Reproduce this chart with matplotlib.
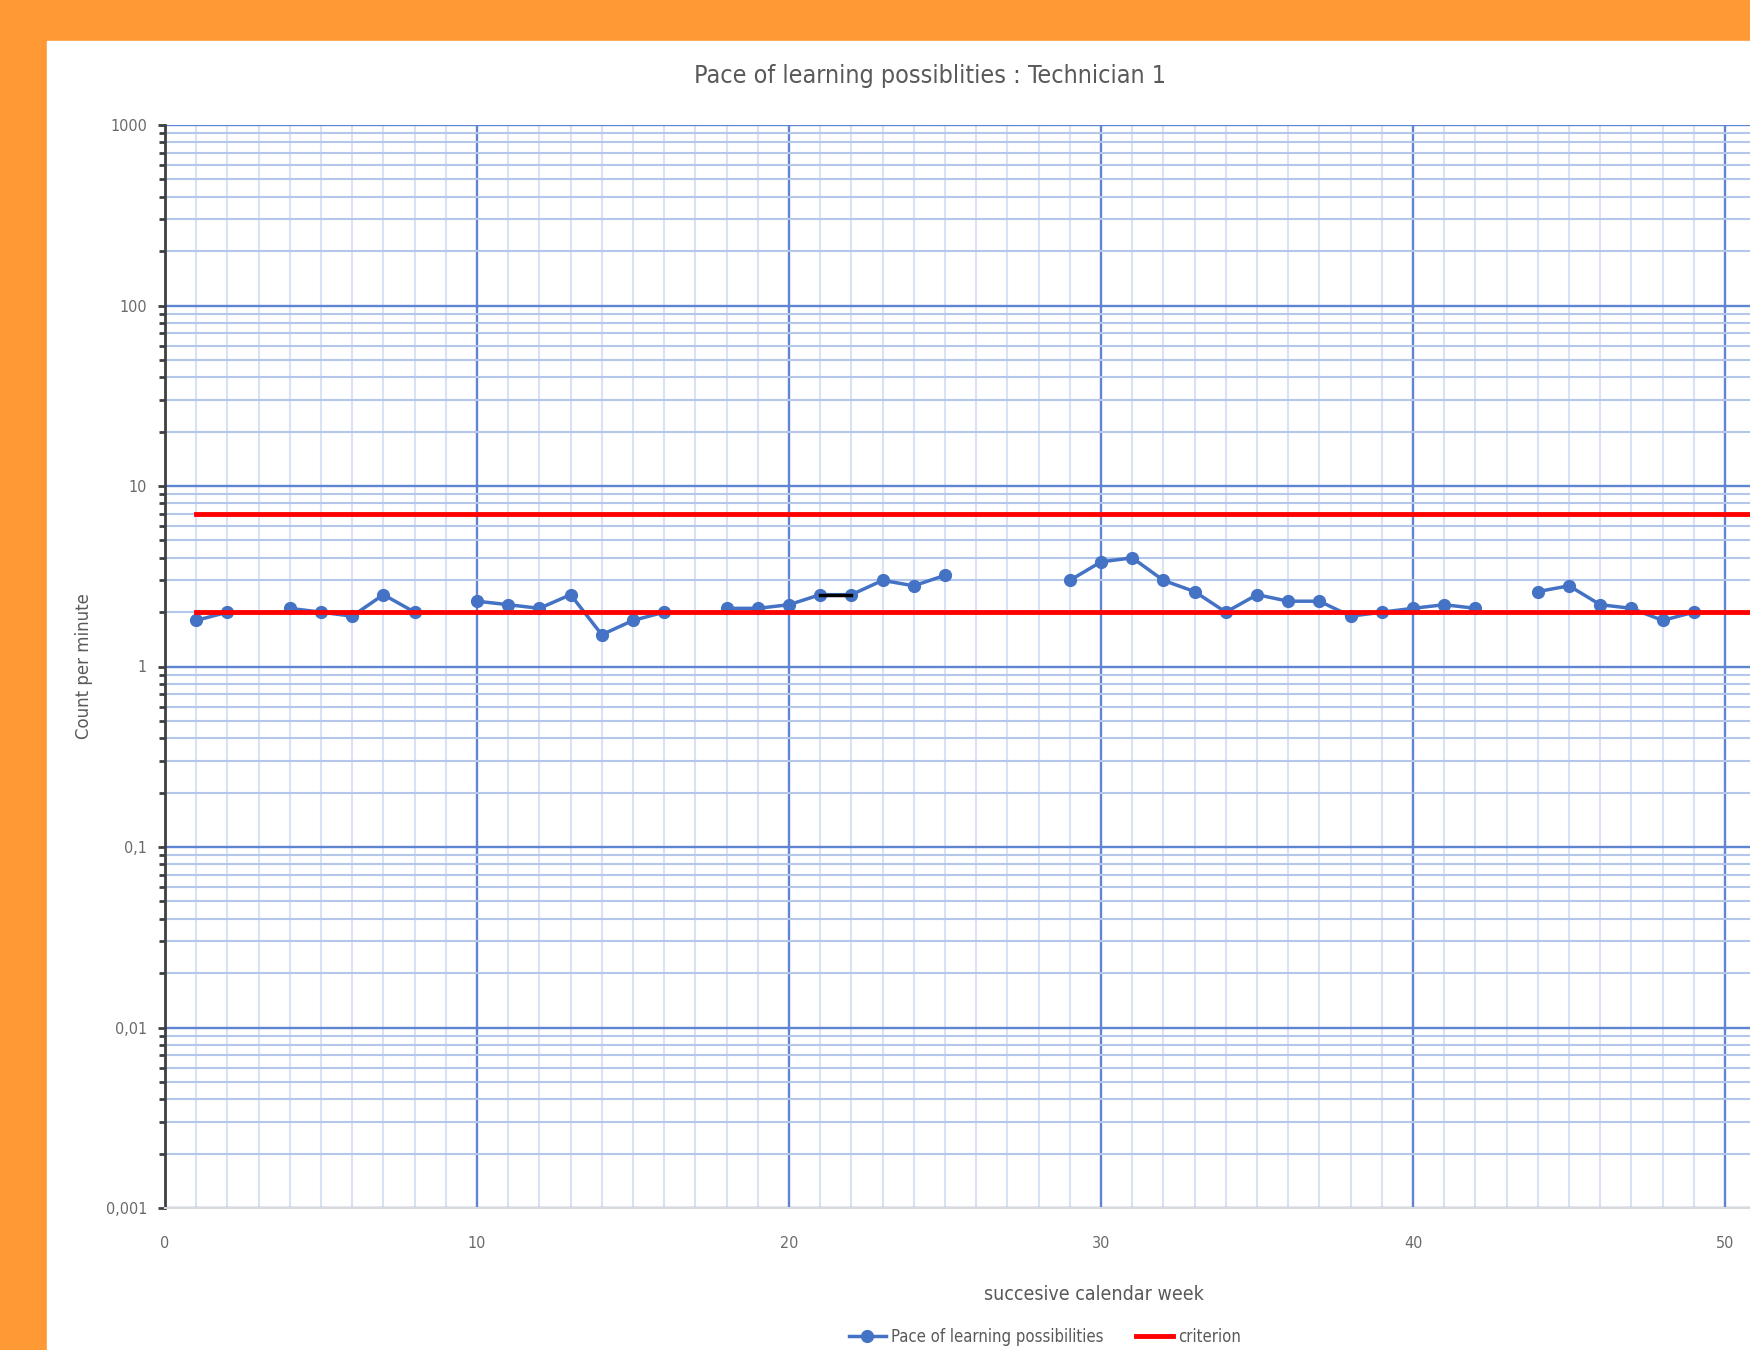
# Pace of learning chart, technician 1 (semi-log, weekly)

import matplotlib.pyplot as plt
import matplotlib.ticker as mticker
import numpy as np

weeks = list(range(1, 50))
pace = [1.8, 2.0, np.nan, 2.1, 2.0, 1.9, 2.5, 2.0, np.nan,
        2.3, 2.2, 2.1, 2.5, 1.5, 1.8, 2.0, np.nan, 2.1, 2.1,
        2.2, 2.5, 2.5, 3.0, 2.8, 3.2, np.nan, np.nan, np.nan, 3.0,
        3.8, 4.0, 3.0, 2.6, 2.0, 2.5, 2.3, 2.3, 1.9, 2.0,
        2.1, 2.2, 2.1, np.nan, 2.6, 2.8, 2.2, 2.1, 1.8, 2.0]
criterion_hi = 7
criterion_lo = 2
crit_start = 1
crit_end = 51
ytick_vals = [0.001, 0.01, 0.1, 1, 10, 100, 1000]
ytick_text = ['0,001', '0,01', '0,1', '1', '10', '100', '1000']
xtick_vals = [0, 10, 20, 30, 40, 50]

grey = '#6a6a6a'
cond = dict(family='DejaVu Sans', stretch='condensed')

fig = plt.figure(figsize=(17.5, 13.5), dpi=100, facecolor='#ff9933')
fig.patches.append(plt.Rectangle((47 / 1750, 0), 1, (1350 - 41) / 1350,
                                 transform=fig.transFigure, color='white', zorder=-5))

ax = fig.add_axes([165 / 1750, 142 / 1350, 1 - 165 / 1750, 1083 / 1350])
ax.patch.set_alpha(0)
ax.set_yscale('log')
ax.set_ylim(0.001, 1000)
ax.set_xlim(0, 50.8)

ax.yaxis.set_major_locator(mticker.FixedLocator(ytick_vals))
ax.yaxis.set_major_formatter(mticker.FixedFormatter(ytick_text))
ax.yaxis.set_minor_locator(mticker.LogLocator(base=10, subs=np.arange(2, 10), numticks=20))
ax.yaxis.set_minor_formatter(mticker.NullFormatter())
ax.xaxis.set_major_locator(mticker.FixedLocator(xtick_vals))
ax.xaxis.set_minor_locator(mticker.MultipleLocator(1))

ax.grid(which='major', axis='both', color='#5f85d2', lw=1.7)
ax.grid(which='minor', axis='y', color='#b4c6ea', lw=1.5)
ax.grid(which='minor', axis='x', color='#d8e2f4', lw=1.5)
ax.set_axisbelow(True)

for s in ['top', 'right']:
    ax.spines[s].set_visible(False)
ax.spines['left'].set_color('#404040')
ax.spines['left'].set_linewidth(2)
ax.spines['bottom'].set_color('#d9d9d9')
ax.spines['bottom'].set_linewidth(1.5)

ax.tick_params(axis='y', which='major', length=5, width=2, color='#404040',
               labelsize=11.5, labelcolor=grey, pad=8)
ax.tick_params(axis='y', which='minor', length=4, width=2, color='#404040')
ax.tick_params(axis='x', which='both', length=0, labelsize=11.5, labelcolor=grey, pad=20)
for lab in ax.get_xticklabels() + ax.get_yticklabels():
    lab.set_fontstretch('condensed')

w = np.array(weeks)
p = np.array(pace)
ax.plot(w, p, '-o', color='#4472c4', lw=2.5, ms=8.5, zorder=3,
        label='Pace of learning possibilities')
ax.plot(w[20:22], p[20:22], color='black', lw=2.5, zorder=4)
ax.plot([crit_start, crit_end], [criterion_hi] * 2, color='#ff0000', lw=3.5, zorder=5)
ax.plot([crit_start, crit_end], [criterion_lo] * 2, color='#ff0000', lw=3.5, zorder=5,
        label='criterion')

fig.text(930 / 1750, 1 - 76 / 1350, 'Pace of learning possiblities : Technician 1',
         ha='center', va='center', fontsize=18, color='#595959', **cond)
fig.text(1094 / 1750, 1 - 1294 / 1350, 'succesive calendar week',
         ha='center', va='center', fontsize=14, color='#595959', **cond)
fig.text(84 / 1750, 1 - 666 / 1350, 'Count per minute', rotation=90,
         ha='center', va='center', fontsize=12, color='#595959')

leg = fig.legend(loc='center', bbox_to_anchor=(1045 / 1750, 13 / 1350), ncol=2,
                 frameon=False, handlelength=2.2, columnspacing=2, handletextpad=0.3,
                 labelcolor='#595959',
                 prop={'family': 'DejaVu Sans', 'stretch': 'condensed', 'size': 12})

fig.savefig('out.png', dpi=100, facecolor=fig.get_facecolor())
